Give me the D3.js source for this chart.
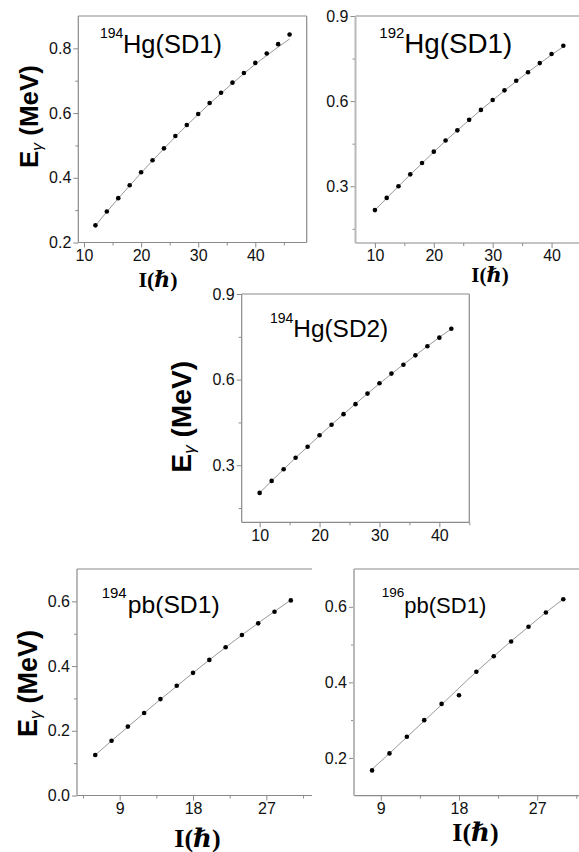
<!DOCTYPE html>
<html><head><meta charset="utf-8">
<script src="https://cdn.jsdelivr.net/npm/d3@7"></script>
<style>body{margin:0;background:#fff}svg{display:block}</style>
</head><body><svg id="c" width="579" height="852"></svg>
<script>
// ---- data ----
const spins194HgSD1 = [12,14,16,18,20,22,24,26,28,30,32,34,36,38,40,42,44,46];
const egamma194HgSD1 = [0.253,0.296,0.337,0.377,0.417,0.454,0.491,0.529,0.563,0.597,0.631,0.663,0.694,0.724,0.755,0.784,0.813,0.843];
const fit194HgSD1 = [0.252,0.295,0.336,0.376,0.415,0.453,0.490,0.527,0.562,0.596,0.629,0.661,0.692,0.722,0.751,0.778,0.804,0.829];

const spins192HgSD1 = [10,12,14,16,18,20,22,24,26,28,30,32,34,36,38,40,42];
const egamma192HgSD1 = [0.216,0.259,0.300,0.342,0.382,0.422,0.461,0.497,0.534,0.569,0.604,0.638,0.672,0.702,0.734,0.766,0.795];
const fit192HgSD1 = [0.216,0.258,0.300,0.341,0.381,0.421,0.460,0.497,0.533,0.569,0.603,0.637,0.670,0.702,0.733,0.763,0.792];

const spins194HgSD2 = [10,12,14,16,18,20,22,24,26,28,30,32,34,36,38,40,42];
const egamma194HgSD2 = [0.203,0.245,0.286,0.326,0.365,0.405,0.442,0.479,0.514,0.551,0.587,0.621,0.652,0.685,0.717,0.747,0.778];
const fit194HgSD2 = [0.203,0.245,0.286,0.326,0.365,0.404,0.442,0.479,0.515,0.551,0.586,0.620,0.653,0.685,0.717,0.748,0.778];

const spins194PbSD1 = [6,8,10,12,14,16,18,20,22,24,26,28,30];
const egamma194PbSD1 = [0.125,0.169,0.213,0.255,0.298,0.339,0.379,0.419,0.458,0.496,0.532,0.568,0.603];
const fit194PbSD1 = [0.125,0.169,0.212,0.255,0.297,0.338,0.379,0.419,0.458,0.496,0.533,0.569,0.604];

const spins196PbSD1 = [8,10,12,14,16,18,20,22,24,26,28,30];
const egamma196PbSD1 = [0.167,0.212,0.256,0.300,0.343,0.366,0.428,0.469,0.508,0.547,0.585,0.620];
const fit196PbSD1 = [0.170,0.212,0.255,0.298,0.341,0.385,0.428,0.469,0.509,0.547,0.585,0.620];

// tick labels
const xTicksHg = [10,20,30,40];
const xMinorHg = [15,25,35,45];
const xTicksPb = [9,18,27];
const xMinorPb = [4.5,13.5,22.5,31.5];
const yTicks194HgSD1 = [0.2,0.4,0.6,0.8];
const yMinor194HgSD1 = [0.3,0.5,0.7];
const yTicksHg9 = [0.3,0.6,0.9];
const yMinorHg9 = [0.15,0.45,0.75];
const yTicks194Pb = [0.0,0.2,0.4,0.6];
const yMinor194Pb = [0.1,0.3,0.5];
const yTicks196Pb = [0.2,0.4,0.6];
const yMinor196Pb = [0.3,0.5];

const titles = ["Hg(SD1)","Hg(SD1)","Hg(SD2)","pb(SD1)","pb(SD1)"];
const masses = ["194","192","194","194","196"];

// ---- layout ----
const panels = [
 {sp:spins194HgSD1, e:egamma194HgSD1, fit:fit194HgSD1, xd:[9,49], yd:[0.2,0.9],
  xM:xTicksHg, xm:xMinorHg, yM:yTicks194HgSD1, ym:yMinor194HgSD1,
  box:{l:78.3,r:306.7,t:16,b:242.5}, right:true, leftStyle:0,
  t:{sx:100,sy:37.5,ss:14,mx:123,my:53,mw:99}, yl:{x:38,y0:168,len:103}, xl:{x:158,y:287,s:22}},
 {sp:spins192HgSD1, e:egamma192HgSD1, fit:fit192HgSD1, xd:[6.7,45], yd:[0.1,0.9],
  xM:xTicksHg, xm:xMinorHg, yM:yTicksHg9, ym:yMinorHg9,
  box:{l:355.5,r:581,t:16,b:243}, right:false, leftStyle:1,
  t:{sx:379.3,sy:38,ss:15,mx:404.3,my:53.3,mw:108}, yl:null, xl:{x:490,y:282,s:21}},
 {sp:spins194HgSD2, e:egamma194HgSD2, fit:fit194HgSD2, xd:[7,45], yd:[0.1,0.9],
  xM:xTicksHg, xm:xMinorHg, yM:yTicksHg9, ym:yMinorHg9,
  box:{l:241.7,r:469.3,t:294,b:522.3}, right:true, leftStyle:0,
  t:{sx:270,sy:322.5,ss:14,mx:293.3,my:336.7,mw:95}, yl:{x:191,y0:472.7,len:112}, xl:null},
 {sp:spins194PbSD1, e:egamma194PbSD1, fit:fit194PbSD1, xd:[3.76,32.6], yd:[0,0.7],
  xM:xTicksPb, xm:xMinorPb, yM:yTicks194Pb, ym:yMinor194Pb,
  box:{l:77,r:312,t:569,b:795.5}, right:false, leftStyle:0,
  t:{sx:101.7,sy:598,ss:15,mx:127.7,my:612.5,mw:92}, yl:{x:37,y0:737,len:107}, xl:{x:197.5,y:847,s:26}},
 {sp:spins196PbSD1, e:egamma196PbSD1, fit:fit196PbSD1, xd:[5.92,32.5], yd:[0.1,0.7],
  xM:xTicksPb, xm:xMinorPb, yM:yTicks196Pb, ym:yMinor196Pb,
  box:{l:354,r:585,t:569,b:795.7}, right:false, leftStyle:1,
  t:{sx:381.7,sy:596.5,ss:13.5,mx:404.3,my:613.3,mw:82}, yl:null, xl:{x:475.5,y:841,s:26}}
];

const svg = d3.select("#c");
const axisCol = "#8a8a8a";
const sans = "Arial, 'Liberation Sans', sans-serif";
const serif = "'Liberation Serif','DejaVu Serif','Times New Roman',serif";

function fitWidth(sel, target, base){
  const w = sel.node().getComputedTextLength();
  if(w>0) sel.style("font-size",(base*target/w).toFixed(2)+"px");
}

panels.forEach((p,i)=>{
  const b = p.box;
  const x = d3.scaleLinear().domain(p.xd).range([b.l,b.r]);
  const y = d3.scaleLinear().domain(p.yd).range([b.b,b.t]);
  const g = svg.append("g");
  const fmtY = d3.format(".1f");

  const xmin = g.append("g").attr("transform",`translate(0,${b.b})`)
    .call(d3.axisBottom(x).tickValues(p.xm.filter(v=>v>=p.xd[0]&&v<=p.xd[1])).tickSize(3).tickFormat(""));
  const ymin = g.append("g").attr("transform",`translate(${b.l},0)`)
    .call(d3.axisLeft(y).tickValues(p.ym).tickSize(3).tickFormat(""));
  const xa = g.append("g").attr("transform",`translate(0,${b.b})`)
    .call(d3.axisBottom(x).tickValues(p.xM).tickSize(5).tickPadding(2).tickFormat(d3.format("d")));
  const ya = g.append("g").attr("transform",`translate(${b.l},0)`)
    .call(d3.axisLeft(y).tickValues(p.yM).tickSize(5).tickPadding(2).tickFormat(fmtY));
  [xmin,ymin,xa,ya].forEach(a=>{
    a.select(".domain").remove();
    a.selectAll("line").attr("stroke",axisCol).attr("stroke-width",1);
    a.selectAll("text").attr("fill","#111").style("font-family",sans).style("font-size","16px");
  });

  g.append("line").attr("x1",b.l).attr("x2",b.r).attr("y1",b.b).attr("y2",b.b).attr("stroke",axisCol).attr("stroke-width",1.2);
  g.append("line").attr("x1",b.l).attr("x2",b.r).attr("y1",b.t).attr("y2",b.t).attr("stroke",axisCol).attr("stroke-width",1.2);
  g.append("line").attr("x1",b.l).attr("x2",b.l).attr("y1",b.t).attr("y2",b.b)
    .attr("stroke",p.leftStyle? "#b8b8b8":axisCol).attr("stroke-width",p.leftStyle?2:1.2);
  if(p.right) g.append("line").attr("x1",b.r).attr("x2",b.r).attr("y1",b.t).attr("y2",b.b).attr("stroke",axisCol).attr("stroke-width",1.2);

  const fitPts = p.sp.map((s,k)=>[s,p.fit[k]]);
  g.append("path").datum(fitPts)
    .attr("d",d3.line().x(d=>x(d[0])).y(d=>y(d[1])).curve(d3.curveMonotoneX))
    .attr("fill","none").attr("stroke","#8c8c8c").attr("stroke-width",0.9);
  g.selectAll("circle.pt").data(p.sp.map((s,k)=>[s,p.e[k]])).enter().append("circle")
    .attr("cx",d=>x(d[0])).attr("cy",d=>y(d[1])).attr("r",2.3).attr("fill","#000");

  g.append("text").attr("x",p.t.sx).attr("y",p.t.sy).text(masses[i])
    .style("font-family",sans).style("font-size",p.t.ss+"px").attr("fill","#000");
  const mt = g.append("text").attr("x",p.t.mx).attr("y",p.t.my).text(titles[i])
    .style("font-family",sans).style("font-size","25px").attr("fill","#000");
  fitWidth(mt, p.t.mw, 25);

  if(p.yl){
    const t = g.append("text").attr("transform",`translate(${p.yl.x},${p.yl.y0}) rotate(-90)`)
      .attr("text-anchor","start").style("font-family",sans).style("font-weight","bold")
      .style("font-size","25px").attr("fill","#000");
    t.append("tspan").text("E");
    t.append("tspan").attr("dy","0.25em").style("font-size","0.6em").style("font-weight","normal").style("font-style","italic").text("γ");
    t.append("tspan").attr("dy","-0.15em").text(" (MeV)");
    fitWidth(t, p.yl.len, 25);
  }
  if(p.xl){
    const t = g.append("text").attr("x",p.xl.x).attr("y",p.xl.y).attr("text-anchor","middle")
      .style("font-family",serif).style("font-weight","bold").style("font-size",p.xl.s+"px").attr("fill","#000");
    t.append("tspan").text("I(");
    t.append("tspan").style("font-style","italic").text("ℏ");
    t.append("tspan").text(")");
  }
});
</script></body></html>
